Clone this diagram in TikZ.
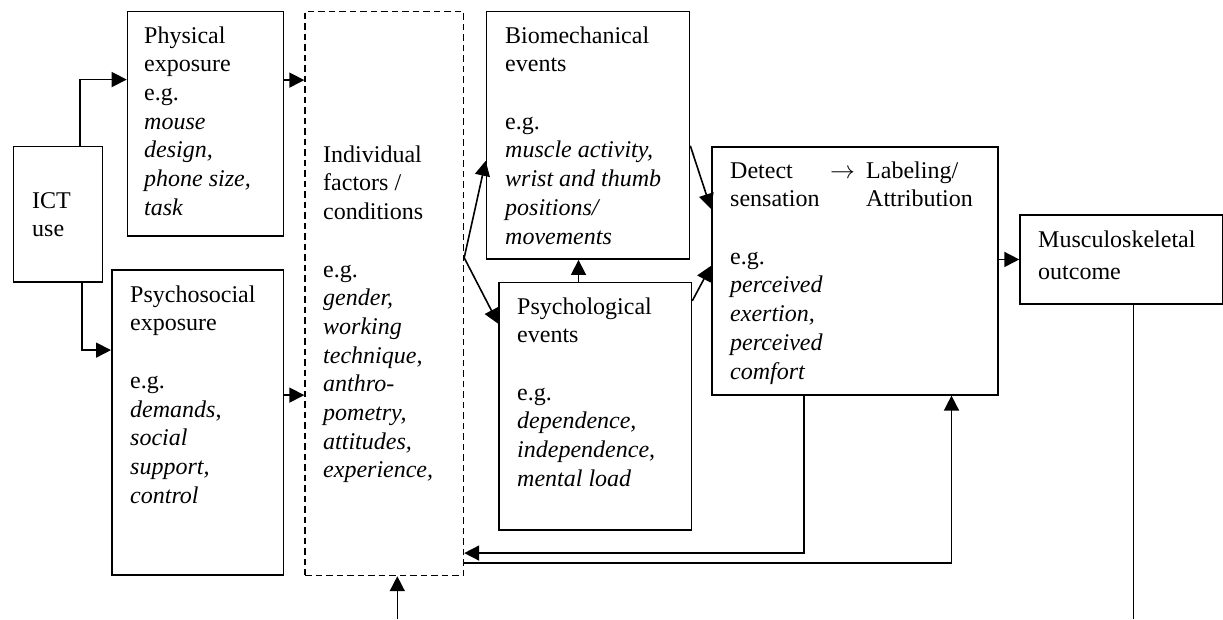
\documentclass[tikz,border=0pt]{standalone}
\usepackage{fontspec}
\setmainfont{Liberation Serif}
\usetikzlibrary{arrows.meta,calc}
\tikzset{
 box/.style={draw, line width=1.6pt, anchor=north west, inner sep=0pt},
 dbox/.style={draw, line width=1.5pt, dash pattern=on 6.5pt off 4pt, anchor=north west, inner sep=0pt},
 txt/.style={anchor=north west, inner sep=0pt, align=left, font=\fontsize{24}{28.7}\selectfont},
 mtxt/.style={anchor=north west, inner sep=0pt, align=left, font=\fontsize{24}{32}\selectfont},
 conn/.style={line width=1.6pt},
 arr/.style={conn, -{Triangle[length=15pt,width=15pt]}},
}
\begin{document}
\begin{tikzpicture}[x=1pt,y=-1pt]
\useasboundingbox (0,0) rectangle (1223,619);
% boxes
\node[box, minimum width=89pt, minimum height=135.3pt] (ict) at (12.7,145.7) {};
\node[box, minimum width=156pt, minimum height=224.3pt] (phys) at (126.7,10.7) {};
\node[box, minimum width=171.7pt, minimum height=305pt] (psy) at (111,269.3) {};
\node[dbox, minimum width=158.4pt, minimum height=564pt] (ind) at (304.3,10.7) {};
\node[box, minimum width=203pt, minimum height=247.6pt] (bio) at (485.7,10.7) {};
\node[box, minimum width=192.4pt, minimum height=247.3pt] (pse) at (498.3,281.7) {};
\node[box, minimum width=286.3pt, minimum height=248pt] (det) at (711,146) {};
\node[box, minimum width=202.7pt, minimum height=89.3pt] (mus) at (1019.3,214) {};
% texts
\node[txt] (ictT) at (32,187.9) {\strut ICT\\use};
\node[txt] (physT) at (144,22.9) {\strut Physical\\exposure\\e.g.\\\textit{mouse}\\\textit{design,}\\\textit{phone size,}\\\textit{task}};
\node[txt] (psyT) at (130,281.9) {\strut Psychosocial\\exposure\\[28.7pt]e.g.\\\textit{demands},\\\textit{social}\\\textit{support,}\\\textit{control}};
\node[txt] (indT) at (323,141.9) {\strut Individual\\factors /\\conditions\\[28.7pt]e.g.\\\textit{gender,}\\\textit{working}\\\textit{technique,}\\\textit{anthro-}\\\textit{pometry,}\\\textit{attitudes,}\\\textit{experience,}};
\node[txt] (bioT) at (505,22.9) {\strut Biomechanical\\events\\[28.7pt]e.g.\\\textit{muscle activity,}\\\textit{wrist and thumb}\\\textit{positions/}\\\textit{movements}};
\node[txt] (pseT) at (517,293.9) {\strut Psychological\\events\\[28.7pt]e.g.\\\textit{dependence,}\\\textit{independence,}\\\textit{mental load}};
\node[txt] (detT) at (730,157.9) {\strut Detect\\sensation\\[28.7pt]e.g.\\\textit{perceived}\\\textit{exertion,}\\\textit{perceived}\\\textit{comfort}};
\node[txt, anchor=base west] (larr) at (830,178) {$\rightarrow$};
\node[txt] (labT) at (866,157.9) {\strut Labeling/\\Attribution};
\node[mtxt] (musT) at (1038,224.6) {\strut Musculoskeletal\\outcome};
% connectors
\draw[arr] ([xshift=22.1pt]ict.north) |- ([yshift=44.1pt]phys.west);
\draw[arr] ([xshift=24pt]ict.south) |- ([yshift=72.5pt]psy.west);
\coordinate (p1) at ([yshift=43.55pt]phys.east);
\draw[arr] (p1) -- (p1 -| ind.west);
\coordinate (p2) at ([yshift=27.5pt]psy.east);
\draw[arr] (p2) -- (p2 -| ind.west);
\coordinate (iv) at ([yshift=35.7pt]ind.east);
\draw[arr] (iv) -- ([yshift=-25.5pt]bio.west);
\draw[arr] (iv) -- ([yshift=82.35pt]pse.west);
\coordinate (p3) at ([xshift=-16.8pt]pse.north);
\draw[arr] (p3) -- (p3 |- bio.south);
\draw[arr] ([yshift=-10.5pt]bio.east) -- ([yshift=62pt]det.west);
\draw[arr] ([yshift=105.35pt]pse.east) -- ([yshift=5pt]det.west);
\draw[arr] (det.east |- mus.west) -- (mus.west);
\coordinate (mend) at (1133.3,619);
\draw[conn] (mend |- mus.south) -- (mend);
\coordinate (bin) at (397.3,619);
\draw[arr] (bin) -- (bin |- ind.south);
\draw[arr] ([xshift=-50.85pt]det.south) |- ([yshift=-259.6pt]ind.east);
\draw[arr] ([yshift=-269.3pt]ind.east) -| ([xshift=96.55pt]det.south);
\end{tikzpicture}
\end{document}
